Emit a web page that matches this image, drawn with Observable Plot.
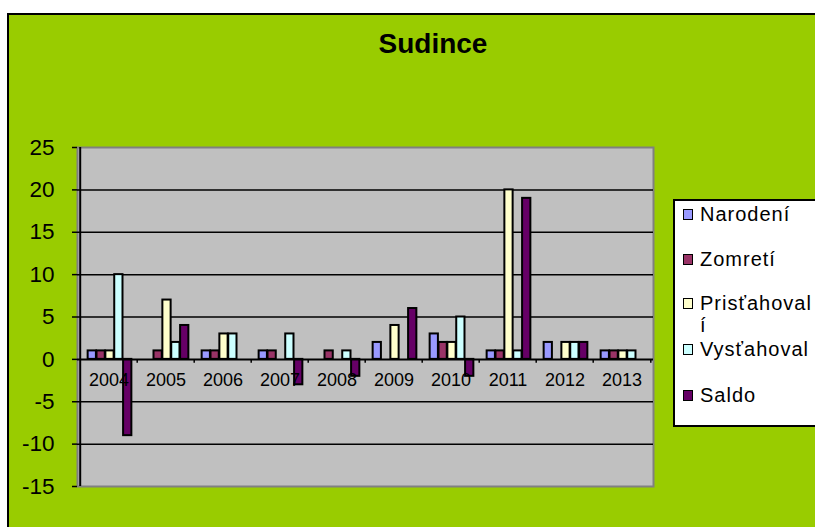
<!DOCTYPE html>
<html>
<head>
<meta charset="utf-8">
<script src="https://cdn.jsdelivr.net/npm/d3@7"></script>
<script src="https://cdn.jsdelivr.net/npm/@observablehq/plot@0.6"></script>
<style>
  html, body { margin: 0; padding: 0; }
  body { width: 815px; height: 527px; overflow: hidden; position: relative; background: #fff; font-family: "Liberation Sans", Arial, sans-serif; }
  #frame { position: absolute; left: 7px; top: 13px; width: 840px; height: 540px; background: #99CC00; border: 2px solid #000; box-sizing: border-box; }
  #title { position: absolute; left: 333px; width: 200px; top: 28px; text-align: center; font-weight: bold; font-size: 28px; color: #000; }
  #chart { position: absolute; left: 0; top: 0; }
  #legend { position: absolute; left: 673px; top: 199px; width: 170px; height: 228px; background: #fff; border: 2px solid #000; box-sizing: border-box; }
  .item { position: absolute; left: 25px; font-size: 20px; letter-spacing: 1px; white-space: nowrap; line-height: 22px; color: #000; }
  .sw { position: absolute; left: 8px; width: 8px; height: 9px; border: 1.5px solid #000; }
</style>
</head>
<body>
<div id="frame"></div>
<div id="chart"></div>
<div id="title">Sudince</div>
<div id="legend"></div>
<script>
const years = ["2004","2005","2006","2007","2008","2009","2010","2011","2012","2013"];
const seriesNames = ["Narodení","Zomretí","Prisťahovalí","Vysťahovalí","Saldo"];
const legendLabels = [["Narodení"],["Zomretí"],["Prisťahoval","í"],["Vysťahoval"],["Saldo"]];
const seriesColors = ["#9999FF","#993366","#FFFFCC","#CCFFFF","#660066"];
const narodeni     = [1, 0, 1, 1, 0, 2, 3, 1, 2, 1];
const zomreti      = [1, 1, 1, 1, 1, 0, 2, 1, 0, 1];
const pristahovali = [1, 7, 3, 0, 0, 4, 2, 20, 2, 1];
const vystahovali  = [10, 2, 3, 3, 1, 0, 5, 1, 2, 1];
const saldo        = [-9, 4, 0, -3, -2, 6, -2, 19, 2, 0];
const yTicks = [-15, -10, -5, 0, 5, 10, 15, 20, 25];

const values = [narodeni, zomreti, pristahovali, vystahovali, saldo];

const W = 815, H = 527;
const mL = 77, mR = 162, mT = 147, mB = 41;
const step = (W - mL - mR) / years.length;
const groupW = step * 5 / 6.5;
const bw = groupW / 5;
const off = (step - groupW) / 2 + 1;

const barMarks = seriesNames.map((name, i) => {
  const rows = years.map((y, j) => ({year: y, series: name, value: values[i][j]})).filter(d => d.value !== 0);
  return Plot.barY(rows, {
    x: "year", y: "value",
    fill: seriesColors[i], stroke: "#000", strokeWidth: 2,
    insetLeft: off + i * bw,
    insetRight: step - off - (i + 1) * bw
  });
});

const chart = Plot.plot({
  width: W, height: H,
  marginLeft: mL, marginRight: mR, marginTop: mT, marginBottom: mB,
  style: {background: "transparent", fontFamily: "Liberation Sans, Arial, sans-serif", color: "#000"},
  x: {type: "band", domain: years, padding: 0, axis: null},
  y: {domain: [-15, 25], axis: null},
  marks: [
    Plot.frame({fill: "#C0C0C0", stroke: "#808080", strokeWidth: 2}),
    Plot.ruleY(yTicks.filter(t => t !== 0 && t !== -15 && t !== 25), {stroke: "#000", strokeWidth: 1.5}),
    ...barMarks,
    Plot.ruleY([0], {stroke: "#000", strokeWidth: 2}),
    Plot.ruleX(years.slice(1), {x: d => d, y1: 0, y2: -0.45, dx: -step / 2, stroke: "#000", strokeWidth: 1.5}),
    Plot.ruleX([years[years.length - 1]], {x: d => d, y1: 0, y2: -0.45, dx: step / 2, stroke: "#000", strokeWidth: 1.5}),
    Plot.ruleX([years[0]], {x: d => d, dx: -step / 2, stroke: "#000", strokeWidth: 2}),
    Plot.axisY({ticks: yTicks, label: null, tickSize: 5, tickPadding: 18, fontSize: 22.5, stroke: "#000", strokeWidth: 1.5, fill: "#000", tickFormat: d => d < 0 ? "-" + Math.abs(d) : String(d)}),
    Plot.text(years, {x: d => d, y: 0, dy: 21, text: d => d, fontSize: 18, fill: "#000", textAnchor: "middle", lineAnchor: "middle"})
  ]
});
document.getElementById("chart").appendChild(chart);

// Legend
const legend = document.getElementById("legend");
const itemTops = [2, 47, 91, 137, 183];
seriesNames.forEach((name, i) => {
  const sw = document.createElement("div");
  sw.className = "sw";
  sw.style.top = (itemTops[i] + 6) + "px";
  sw.style.background = seriesColors[i];
  legend.appendChild(sw);
  const t = document.createElement("div");
  t.className = "item";
  t.style.top = itemTops[i] + "px";
  legendLabels[i].forEach((line, k) => {
    if (k > 0) t.appendChild(document.createElement("br"));
    t.appendChild(document.createTextNode(line));
  });
  legend.appendChild(t);
});
</script>
</body>
</html>
